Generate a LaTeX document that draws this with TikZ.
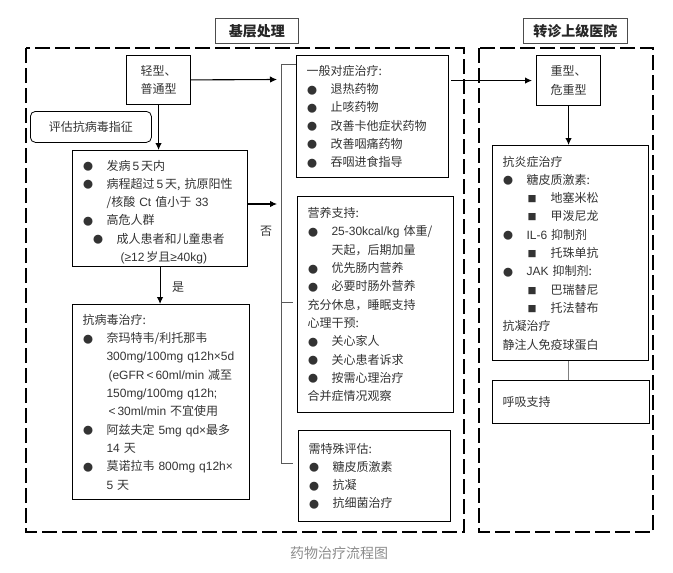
\documentclass[tikz,border=0pt]{standalone}
\usepackage{fontspec}
\usetikzlibrary{arrows.meta}
\setmainfont{Noto Sans CJK SC}
\newfontfamily\latn{Liberation Sans}
\newcommand{\la}[1]{{\latn #1}}
\newcommand{\dotitem}{\makebox[24pt][l]{\hspace{0.5pt}\raisebox{-0.5pt}{\fontsize{10}{10}\selectfont ●}}}
\newcommand{\sqitem}{\makebox[24pt][l]{\hspace{1pt}\raisebox{0pt}{\fontsize{9}{9}\selectfont ■}}}
\newcommand{\hang}{\hspace*{24pt}}
\tikzset{
  x=1pt,y=1pt,>={Latex[length=7pt,width=6.5pt]},
  txt/.style={font=\fontsize{12}{18.3}\selectfont,text=black!80},
  box/.style={txt,draw,line width=1.1pt,anchor=north west,inner xsep=10pt,inner ysep=0pt,align=left},
  title/.style={draw=black!70,line width=0.7pt,anchor=north west,inner sep=0pt,align=center,font=\fontsize{14}{16}\selectfont\bfseries,text=black!85},
  zone/.style={line width=1.9pt,dash pattern=on 15pt off 5pt},
  arrow/.style={->,line width=1.1pt},
  bracket/.style={line width=0.7pt,draw=black!65}
}
\begin{document}
\begin{tikzpicture}[y=-1pt]
  \useasboundingbox (0,0) rectangle (673,573);
  \draw[zone] (26,48) rectangle (464,532);
  \draw[zone] (479,48) rectangle (653,532);
  \node[title,minimum width=83pt,minimum height=25pt] (base) at (215,18) {基层处理};
  \node[title,minimum width=104pt,minimum height=25pt] (refer) at (523,18) {转诊上级医院};

  \node[box,align=center,inner xsep=0pt,text width=64pt,minimum height=49pt] (mild) at (126,55) {轻型、\\普通型};
  \node[txt,draw,line width=0.8pt,rounded corners=5pt,anchor=north west,inner sep=0pt,minimum width=121pt,minimum height=31pt] (assess) at (30,111) {评估抗病毒指征};
  \node[box,text width=155pt,minimum height=116pt] (eval) at (72,150) {
    \rule{0pt}{17pt}\dotitem 发病\,\la{5}\,天内\\
    \dotitem 病程超过\,\la{5}\,天, 抗原阳性\\
    \hang /核酸 \la{Ct} 值小于 \la{33}\\
    \dotitem 高危人群\\
    \hspace*{10pt}\dotitem 成人患者和儿童患者\\
    \hspace*{38pt}\la{(≥12}\,岁且\la{≥40kg)}};
  \node[box,text width=157pt,minimum height=195pt] (antiviral) at (72,304) {
    抗病毒治疗:\\
    \dotitem 奈玛特韦/利托那韦\\
    \hang \la{300mg/100mg q12h×5d}\\
    \hang \la{\,(eGFR\,<\,60ml/min} 减至\\
    \hang \la{150mg/100mg q12h;}\\
    \hang \la{\,<\,30ml/min} 不宜使用\\
    \dotitem 阿兹夫定 \la{5mg qd×}最多\\
    \hang \la{14} 天\\
    \dotitem 莫诺拉韦 \la{800mg q12h×}\\
    \hang \la{5} 天};

  \node[box,text width=132pt,minimum height=122pt] (general) at (296,55) {
    一般对症治疗:\\
    \dotitem 退热药物\\
    \dotitem 止咳药物\\
    \dotitem 改善卡他症状药物\\
    \dotitem 改善咽痛药物\\
    \dotitem 吞咽进食指导};
  \node[box,text width=135.5pt,minimum height=216pt] (nutrition) at (297,196) {
    营养支持:\\
    \dotitem \la{25-30kcal/kg} 体重/\\
    \hang 天起，后期加量\\
    \dotitem 优先肠内营养\\
    \dotitem 必要时肠外营养\\
    充分休息，睡眠支持\\
    心理干预:\\
    \dotitem 关心家人\\
    \dotitem 关心患者诉求\\
    \dotitem 按需心理治疗\\
    合并症情况观察};
  \node[box,text width=132pt,minimum height=91pt] (special) at (298,430) {
    需特殊评估:\\
    \dotitem 糖皮质激素\\
    \dotitem 抗凝\\
    \dotitem 抗细菌治疗};

  \node[box,align=center,inner xsep=0pt,text width=64pt,minimum height=50pt] (severe) at (536,55) {重型、\\危重型};
  \node[box,text width=136pt,minimum height=215pt] (inflam) at (492,145) {
    抗炎症治疗\\
    \dotitem 糖皮质激素:\\
    \hang\sqitem 地塞米松\\
    \hang\sqitem 甲泼尼龙\\
    \dotitem \la{IL-6} 抑制剂\\
    \hang\sqitem 托珠单抗\\
    \dotitem \la{JAK} 抑制剂:\\
    \hang\sqitem 巴瑞替尼\\
    \hang\sqitem 托法替布\\
    抗凝治疗\\
    静注人免疫球蛋白};
  \node[box,text width=137pt,minimum height=43pt] (breath) at (492,380) {呼吸支持};

  \node[txt,inner sep=0pt] (no) at (266,231) {否};
  \node[txt,inner sep=0pt] (yes) at (178,287) {是};
  \node[txt,inner sep=0pt,text=black!45,font=\fontsize{14}{16}\selectfont] (caption) at (339,553) {药物治疗流程图};

  \coordinate (mildend) at (277,79.5);
  \coordinate (evalend) at (277,204);
  \coordinate (brktop) at (281,64);
  \coordinate (brkbot) at (281,463);
  \coordinate (brkmid) at (281,302);
  \coordinate (midtip) at (293,302);
  \coordinate (bottip) at (293,463);

  \draw[arrow] (mild) -- (mildend);
  \draw[arrow] (eval.east |- evalend) -- (evalend);
  \draw[arrow] (mild.south) -- (mild.south |- eval.north);
  \draw[arrow] (eval.south) -- (eval.south |- antiviral.north);
  \draw[arrow,shorten >=4pt,shorten <=2pt] (general.east |- severe) -- (severe);
  \draw[arrow] (severe.south) -- (severe.south |- inflam.north);
  \draw[bracket] (general.west |- brktop) -- (brktop) -- (brkbot) -- (bottip);
  \draw[bracket] (brkmid) -- (midtip);
  \draw[line width=1pt,draw=black!50] (inflam.south -| severe) -- (breath.north -| severe);
\end{tikzpicture}
\end{document}
